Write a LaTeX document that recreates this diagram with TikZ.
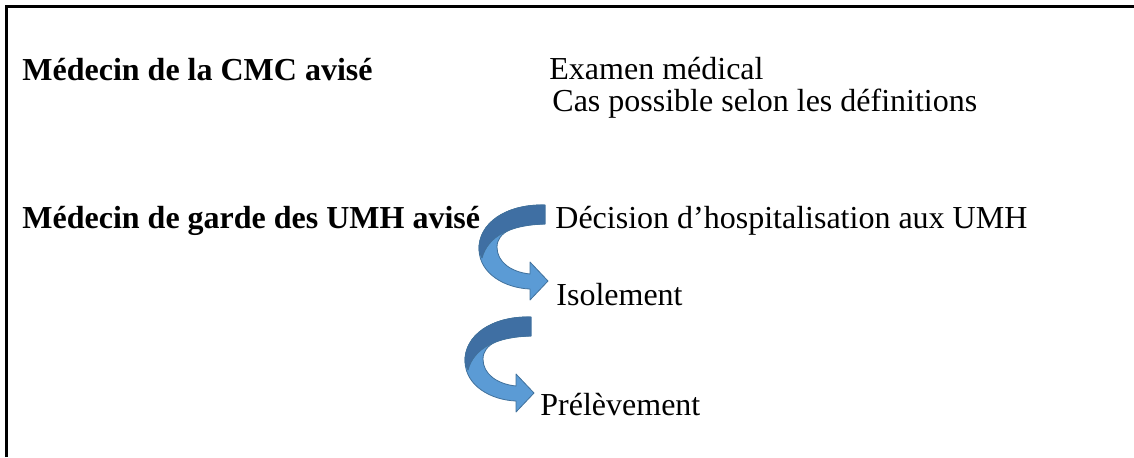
\documentclass[tikz,border=0pt]{standalone}
\usepackage{fontspec}
\setmainfont{Liberation Serif}
\definecolor{arrdark}{HTML}{3F6FA3}
\definecolor{arrlight}{HTML}{5B9BD5}
\definecolor{arrline}{HTML}{41719C}
\tikzset{
  txt/.style={anchor=base west, inner sep=0pt, font=\fontsize{16}{19}\selectfont},
  btxt/.style={txt, font=\fontsize{16}{19}\selectfont\bfseries},
  frame/.style={line width=1.5pt, black},
  lightpart/.style={fill=arrlight, draw=arrline, line width=0.4pt, line join=round},
  darkpart/.style={fill=arrdark, draw=arrline, line width=0.4pt, line join=round},
  pics/curvarrow/.style={code={
    \path[lightpart] (545,205) .. controls (505,204) and (478,224) .. (479,250)
      .. controls (480,274) and (505,288) .. (530,289)
      -- (530,300) -- (548,281) -- (530,262) -- (530,274)
      .. controls (511,272) and (497,262) .. (497,247)
      .. controls (497,232) and (515,224) .. (545,224) -- cycle;
    \path[darkpart] (545,205) .. controls (505,204) and (478,224) .. (479,250)
      .. controls (480,254) and (481,256) .. (482,258)
      .. controls (488,236) and (510,225) .. (545,224) -- cycle;
  }}
}
\begin{document}
\begin{tikzpicture}[x=0.5pt, y=-0.5pt]
\useasboundingbox (0,0) rectangle (1134,457);
\draw[frame] (6.5,457) -- (6.5,6.5) -- (1134,6.5);

\node[btxt] (cmc) at (22,80) {Médecin de la CMC avisé};
\node[txt] (exam) at (549,79) {Examen médical};
\node[txt] (cas) at (552,111) {Cas possible selon les définitions};

\node[btxt] (umh) at (22,228) {Médecin de garde des UMH avisé};
\node[txt] (dec) at (555,228) {Décision d’hospitalisation aux UMH};
\node[txt] (iso) at (556,305) {Isolement};
\node[txt] (prel) at (540,415) {Prélèvement};

\pic at (0,0) {curvarrow};
\pic at (-14,112) {curvarrow};
\end{tikzpicture}
\end{document}
